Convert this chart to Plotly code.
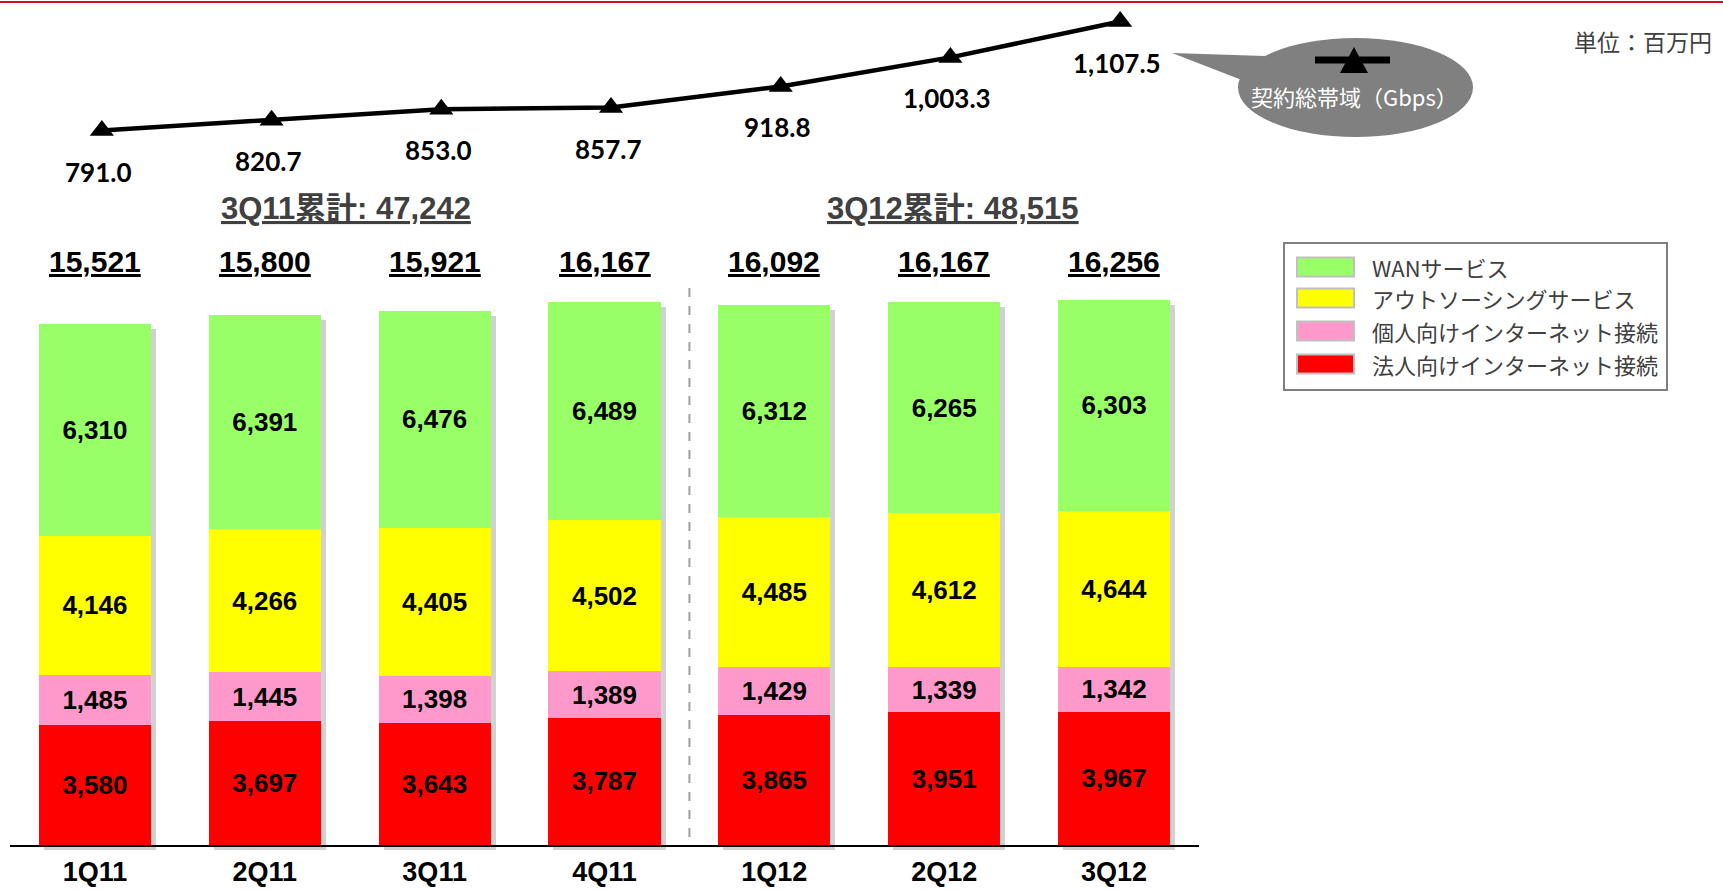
import plotly.graph_objects as go

W, H = 1723, 891

# ---------------- data ----------------
quarters = ["1Q11", "2Q11", "3Q11", "4Q11", "1Q12", "2Q12", "3Q12"]
series_names = ["法人向けインターネット接続", "個人向けインターネット接続",
                "アウトソーシングサービス", "WANサービス"]
corporate = [3580, 3697, 3643, 3787, 3865, 3951, 3967]
personal = [1485, 1445, 1398, 1389, 1429, 1339, 1342]
outsourcing = [4146, 4266, 4405, 4502, 4485, 4612, 4644]
wan = [6310, 6391, 6476, 6489, 6312, 6265, 6303]
totals = [15521, 15800, 15921, 16167, 16092, 16167, 16256]
bandwidth = [791.0, 820.7, 853.0, 857.7, 918.8, 1003.3, 1107.5]
cumulative_labels = ["3Q11累計: 47,242", "3Q12累計: 48,515"]
line_name = "契約総帯域（Gbps）"
unit_label = "単位：百万円"
series_colors = ["#ff0000", "#ff99cc", "#ffff00", "#99ff66"]


def px(x):
    return x / W


def py(y):
    return 1 - y / H


LAT = "Liberation Sans, Arial, sans-serif"
JP = "Noto Sans CJK JP, sans-serif"
MIX = "Liberation Sans, Noto Sans CJK JP, sans-serif"

fig = go.Figure()

# shadow bars (subplot xy, drawn first)
fig.add_trace(go.Bar(x=quarters, y=totals, marker=dict(color="rgba(0,0,0,0.18)", line=dict(width=0)),
                     xaxis="x", yaxis="y", showlegend=False, hoverinfo="skip"))

# stacked bars (subplot x2y2)
for name, vals, col in zip(series_names, [corporate, personal, outsourcing, wan], series_colors):
    fig.add_trace(go.Bar(
        x=quarters, y=vals, name=name,
        marker=dict(color=col, line=dict(width=0)),
        text=[f"{v:,}" for v in vals], textposition="inside",
        insidetextanchor="middle", textangle=0,
        textfont=dict(family=LAT, size=26, color="#000000", weight="bold"),
        xaxis="x2", yaxis="y2", showlegend=False,
    ))

# bandwidth line (subplot x3y3)
fig.add_trace(go.Scatter(
    x=quarters, y=bandwidth, mode="lines+markers", name=line_name,
    line=dict(color="#000000", width=4.5),
    marker=dict(symbol="triangle-up", size=21, color="#000000"),
    xaxis="x3", yaxis="y3", showlegend=False,
))

ymax_bar = 575 * 29.8
k = 0.3444
p0 = 130.5
y3_top = 791 + p0 / k
y3_bot = 791 - (H - p0) / k

annotations = []
# line value labels
for q, v in zip(quarters, bandwidth):
    annotations.append(dict(x=q, y=v, xref="x3", yref="y3", text=f"{v:,.1f}",
                            showarrow=False, yshift=-41, xshift=-3,
                            font=dict(family="Lato, sans-serif", size=26, color="#000000", weight="bold")))
# totals
for q, t in zip(quarters, totals):
    annotations.append(dict(x=q, y=py(261), xref="x2", yref="paper", text=f"<u>{t:,}</u>",
                            showarrow=False, yanchor="middle",
                            font=dict(family=LAT, size=30, color="#000000", weight="bold")))
# cumulative labels
for lab, xc in zip(cumulative_labels, [346, 953]):
    annotations.append(dict(x=px(xc), y=py(209), xref="paper", yref="paper", text=f"<u>{lab}</u>",
                            showarrow=False, xanchor="center", yanchor="middle",
                            font=dict(family=MIX, size=31, color="#404040", weight="bold")))
# unit
annotations.append(dict(x=px(1714), y=py(41), xref="paper", yref="paper", text=unit_label,
                        showarrow=False, xanchor="right", yanchor="middle",
                        font=dict(family=JP, size=23, color="#404040")))
# callout text
annotations.append(dict(x=px(1354), y=py(96), xref="paper", yref="paper", text=line_name,
                        showarrow=False, xanchor="center", yanchor="middle",
                        font=dict(family=JP, size=22, color="#ffffff")))

shapes = []
# top red rule
shapes.append(dict(type="line", xref="paper", yref="paper", x0=0, x1=1, y0=py(2), y1=py(2),
                   line=dict(color="#c8102e", width=2)))
# divider between fiscal years
shapes.append(dict(type="line", xref="x2", yref="paper", x0=3.5, x1=3.5, y0=py(288), y1=py(845),
                   line=dict(color="#a0a0a0", width=2, dash="dash")))

# legend box (manual)
shapes.append(dict(type="rect", xref="paper", yref="paper", x0=px(1284), x1=px(1667),
                   y0=py(243), y1=py(390), line=dict(color="#808080", width=2), fillcolor="#ffffff"))
leg_order = [3, 2, 1, 0]
leg_y = [267, 298, 331, 364]
for idx, cy in zip(leg_order, leg_y):
    shapes.append(dict(type="rect", xref="paper", yref="paper", x0=px(1297), x1=px(1354),
                       y0=py(cy - 9.5), y1=py(cy + 9.5), fillcolor=series_colors[idx],
                       line=dict(color="#c0c0c0", width=2)))
    annotations.append(dict(x=px(1370), y=py(cy), xref="paper", yref="paper", text=series_names[idx],
                            showarrow=False, xanchor="left", yanchor="middle",
                            font=dict(family=JP, size=22, color="#404040")))

# callout bubble
shapes.append(dict(type="path", xref="paper", yref="paper",
                   path=f"M {px(1172)},{py(53)} L {px(1265)},{py(56)} L {px(1247)},{py(82)} Z",
                   fillcolor="#808080", line=dict(width=0)))
shapes.append(dict(type="circle", xref="paper", yref="paper", x0=px(1238), x1=px(1473),
                   y0=py(38), y1=py(137), fillcolor="#808080", line=dict(width=0)))
shapes.append(dict(type="line", xref="paper", yref="paper", x0=px(1315), x1=px(1390),
                   y0=py(60), y1=py(60), line=dict(color="#000000", width=7)))
shapes.append(dict(type="path", xref="paper", yref="paper",
                   path=f"M {px(1354)},{py(47)} L {px(1368)},{py(73)} L {px(1340)},{py(73)} Z",
                   fillcolor="#000000", line=dict(width=0)))

hidden = dict(visible=False, showgrid=False, zeroline=False, fixedrange=True, automargin=False)

fig.update_layout(
    width=W, height=H, autosize=False,
    margin=dict(l=0, r=0, t=0, b=0, pad=0, autoexpand=False),
    paper_bgcolor="#ffffff", plot_bgcolor="rgba(0,0,0,0)",
    barmode="stack", bargap=0.34,
    showlegend=False,
    xaxis=dict(domain=[px(15), px(1204)], range=[-0.5, 6.5], anchor="y", **hidden),
    yaxis=dict(domain=[py(850), py(275)], range=[0, ymax_bar], anchor="x", **hidden),
    xaxis2=dict(domain=[px(10), px(1199)], range=[-0.5, 6.5], anchor="y2", automargin=False,
                showline=True, linecolor="#000000", linewidth=2, showgrid=False, zeroline=False,
                ticks="", ticklabelstandoff=2,
                tickfont=dict(family=LAT, size=27, color="#000000", weight="bold")),
    yaxis2=dict(domain=[py(845), py(270)], range=[0, ymax_bar], anchor="x2", automargin=False,
                visible=False, showgrid=False, zeroline=False),
    xaxis3=dict(domain=[px(17), px(1205)], range=[-0.5, 6.5], anchor="y3", **hidden),
    yaxis3=dict(domain=[0, 1], range=[y3_bot, y3_top], anchor="x3", **hidden),
    annotations=annotations,
    shapes=shapes,
)

fig.write_html("out.html", config=dict(displayModeBar=False),
               post_script="document.body.style.margin='0';document.body.style.overflow='hidden';")
